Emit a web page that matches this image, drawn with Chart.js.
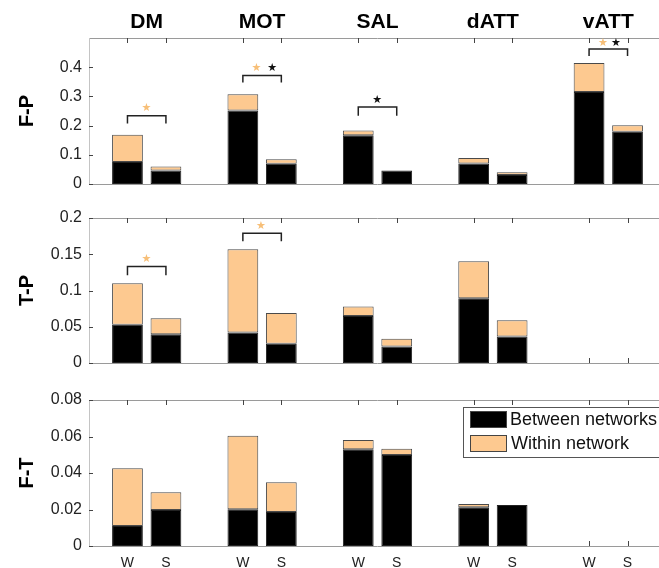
<!DOCTYPE html>
<html>
<head>
<meta charset="utf-8">
<script src="https://cdn.jsdelivr.net/npm/chart.js@4.4.1/dist/chart.umd.min.js"></script>
<style>
html, body { margin: 0; padding: 0; background: #fff; overflow: hidden; }
#wrap { position: relative; width: 659px; height: 568px; overflow: hidden; }
#wrap canvas { position: absolute; left: 0; top: 0; }
</style>
</head>
<body>
<div id="wrap">
  <canvas id="fpChart" width="680" height="568" style="width:680px;height:568px"></canvas>
  <canvas id="tpChart" width="680" height="568" style="width:680px;height:568px"></canvas>
  <canvas id="ftChart" width="680" height="568" style="width:680px;height:568px"></canvas>
</div>
<script>
// Networks and conditions
const groups = ['DM', 'MOT', 'SAL', 'dATT', 'vATT'];
const conditions = ['W', 'S'];

// F-P (order: DM W, DM S, MOT W, MOT S, ...)
const fpBetween = [0.075, 0.046, 0.252, 0.069, 0.167, 0.046, 0.070, 0.031, 0.315, 0.179];
const fpWithin  = [0.094, 0.014, 0.055, 0.016, 0.016, 0.000, 0.019, 0.009, 0.099, 0.022];
const fpTicks = [0, 0.1, 0.2, 0.3, 0.4];

// T-P
const tpBetween = [0.0526, 0.0398, 0.042, 0.0265, 0.065, 0.0228, 0.0893, 0.0366, null, null];
const tpWithin  = [0.0574, 0.0220, 0.115, 0.0425, 0.013, 0.0106, 0.0512, 0.0224, null, null];
const tpTicks = [0, 0.05, 0.1, 0.15, 0.2];

// F-T
const ftBetween = [0.0110, 0.0197, 0.0201, 0.0186, 0.0530, 0.0499, 0.0212, 0.0225, null, null];
const ftWithin  = [0.0316, 0.0097, 0.0403, 0.0163, 0.0051, 0.0034, 0.0018, 0.0000, null, null];
const ftTicks = [0, 0.02, 0.04, 0.06, 0.08];

// Significance brackets: [group, bracket y, leg end y]
const fpBrackets = [[0, 0.234, 0.207], [1, 0.372, 0.348], [2, 0.264, 0.234], [4, 0.462, 0.438]];
const tpBrackets = [[0, 0.133, 0.121], [1, 0.179, 0.168]];
// Stars: [x, y, type] (o = within network, k = between networks)
const fpStars = [[1.49, 0.259, 'o'], [4.35, 0.397, 'o'], [4.76, 0.397, 'k'], [7.49, 0.286, 'k'], [13.36, 0.483, 'o'], [13.70, 0.483, 'k']];
const tpStars = [[1.49, 0.143, 'o'], [4.47, 0.189, 'o']];

const FONT = '"Liberation Sans", Arial, sans-serif';
const ORANGE = '#fdc990';
const STAR_ORANGE = '#f7bf78';
const H = 568;

function barPos(i) {
    return Math.floor(i / 2) * 3 + (i % 2) + 1;
}

function toPoints(values) {
    return values.map((v, i) => ({ x: barPos(i), y: v })).filter(p => p.y !== null);
}

const allPositions = fpBetween.map((v, i) => barPos(i));

// Axes box, inward ticks, titles, brackets and stars
function decorPlugin(cfg) {
    return {
        id: 'decor',
        beforeDatasetsDraw(chart) {
            const { ctx, chartArea: a, scales: { x, y } } = chart;
            ctx.save();
            ctx.lineWidth = 1;
            ctx.strokeStyle = '#9a9a9a';
            ctx.beginPath();
            ctx.moveTo(a.left, a.top + 0.5); ctx.lineTo(a.right, a.top + 0.5);
            ctx.moveTo(a.left, a.bottom + 0.5); ctx.lineTo(a.right, a.bottom + 0.5);
            ctx.stroke();
            ctx.strokeStyle = '#c4c4c4';
            ctx.beginPath();
            ctx.moveTo(a.left + 0.5, a.top); ctx.lineTo(a.left + 0.5, a.bottom);
            ctx.stroke();
            ctx.strokeStyle = '#444';
            ctx.beginPath();
            x.ticks.forEach(t => {
                const px = Math.round(x.getPixelForValue(t.value)) + 0.5;
                ctx.moveTo(px, a.top); ctx.lineTo(px, a.top + 5);
                ctx.moveTo(px, a.bottom); ctx.lineTo(px, a.bottom - 5);
            });
            y.ticks.forEach(t => {
                const py = Math.round(y.getPixelForValue(t.value)) + 0.5;
                ctx.moveTo(a.left, py); ctx.lineTo(a.left + 4, py);
            });
            ctx.stroke();
            ctx.restore();
        },
        afterDatasetsDraw(chart) {
            const { ctx, chartArea: a, scales: { x, y } } = chart;
            ctx.save();
            // y title
            ctx.fillStyle = '#000';
            ctx.font = 'bold 20px ' + FONT;
            ctx.textAlign = 'center';
            ctx.textBaseline = 'middle';
            ctx.translate(27, (a.top + a.bottom) / 2);
            ctx.rotate(-Math.PI / 2);
            ctx.fillText(cfg.title, 0, 0);
            ctx.setTransform(1, 0, 0, 1, 0, 0);

            // network titles
            if (cfg.groupTitles) {
                ctx.font = 'bold 21px ' + FONT;
                groups.forEach((g, gi) => {
                    ctx.fillText(g, x.getPixelForValue(gi * 3 + 1.5), 22);
                });
            }

            // brackets
            ctx.strokeStyle = '#222';
            ctx.lineWidth = 1.5;
            (cfg.brackets || []).forEach(([gi, yb, yl]) => {
                const x1 = x.getPixelForValue(gi * 3 + 1);
                const x2 = x.getPixelForValue(gi * 3 + 2);
                const pb = y.getPixelForValue(yb);
                const pl = y.getPixelForValue(yl);
                ctx.beginPath();
                ctx.moveTo(x1, pl); ctx.lineTo(x1, pb); ctx.lineTo(x2, pb); ctx.lineTo(x2, pl);
                ctx.stroke();
            });

            // stars
            ctx.font = '11px "DejaVu Sans", sans-serif';
            ctx.textAlign = 'center';
            ctx.textBaseline = 'middle';
            (cfg.stars || []).forEach(([sx, sy, type]) => {
                ctx.fillStyle = type === 'k' ? '#111' : STAR_ORANGE;
                ctx.fillText('\u2605', x.getPixelForValue(sx), y.getPixelForValue(sy));
            });

            // legend
            if (cfg.legend) {
                ctx.fillStyle = '#fff';
                ctx.fillRect(463, 407, 210, 50);
                ctx.strokeStyle = '#555';
                ctx.lineWidth = 1;
                ctx.strokeRect(463.5, 407.5, 210, 50);
                ctx.fillStyle = '#000';
                ctx.fillRect(470, 411, 37, 17);
                ctx.fillStyle = ORANGE;
                ctx.fillRect(470, 435, 37, 17);
                ctx.strokeStyle = '#444';
                ctx.strokeRect(470.5, 411.5, 36, 16);
                ctx.strokeRect(470.5, 435.5, 36, 16);
                ctx.fillStyle = '#111';
                ctx.font = '18px ' + FONT;
                ctx.textAlign = 'left';
                ctx.fillText('Between networks', 510, 420);
                ctx.fillText('Within network', 511, 444);
            }
            ctx.restore();
        }
    };
}

function makePanel(id, between, within, ticks, yMax, top, bottom, cfg) {
    const showX = !!cfg.xLabels;
    return new Chart(document.getElementById(id), {
        type: 'bar',
        data: {
            datasets: [
                {
                    label: 'Between networks',
                    data: toPoints(between),
                    backgroundColor: '#000',
                    borderColor: '#222',
                    borderWidth: 1,
                    borderSkipped: false,
                    barPercentage: 0.8,
                    categoryPercentage: 1
                },
                {
                    label: 'Within network',
                    data: toPoints(within),
                    backgroundColor: ORANGE,
                    borderColor: '#4a4a4a',
                    borderWidth: 1,
                    borderSkipped: false,
                    barPercentage: 0.8,
                    categoryPercentage: 1
                }
            ]
        },
        options: {
            responsive: false,
            animation: false,
            layout: {
                padding: { left: 0, right: 14, top: top, bottom: showX ? H - bottom - 22 : H - bottom }
            },
            plugins: {
                legend: { display: false },
                tooltip: { enabled: false }
            },
            scales: {
                x: {
                    type: 'linear',
                    stacked: true,
                    offset: false,
                    min: 0,
                    max: 15,
                    display: showX,
                    grid: { display: false, drawTicks: false },
                    border: { display: false },
                    afterBuildTicks: s => { s.ticks = allPositions.map(v => ({ value: v })); },
                    afterFit: s => { if (showX) s.height = 22; },
                    ticks: {
                        padding: 9,
                        color: '#222',
                        font: { family: FONT, size: 14 },
                        maxRotation: 0,
                        autoSkip: false,
                        callback: v => conditions[(v - 1) % 3]
                    }
                },
                y: {
                    stacked: true,
                    min: 0,
                    max: yMax,
                    grid: { display: false, drawTicks: false },
                    border: { display: false },
                    afterBuildTicks: s => { s.ticks = ticks.map(v => ({ value: v })); },
                    afterFit: s => { s.width = 89; },
                    ticks: {
                        padding: 7,
                        color: '#222',
                        font: { family: FONT, size: 16 },
                        callback: v => String(v)
                    }
                }
            }
        },
        plugins: [decorPlugin(cfg)]
    });
}

makePanel('fpChart', fpBetween, fpWithin, fpTicks, 0.5, 38, 184,
    { title: 'F-P', groupTitles: true, brackets: fpBrackets, stars: fpStars });
makePanel('tpChart', tpBetween, tpWithin, tpTicks, 0.2, 218, 363,
    { title: 'T-P', brackets: tpBrackets, stars: tpStars });
makePanel('ftChart', ftBetween, ftWithin, ftTicks, 0.08, 400, 546,
    { title: 'F-T', legend: true, xLabels: true });
</script>
</body>
</html>
